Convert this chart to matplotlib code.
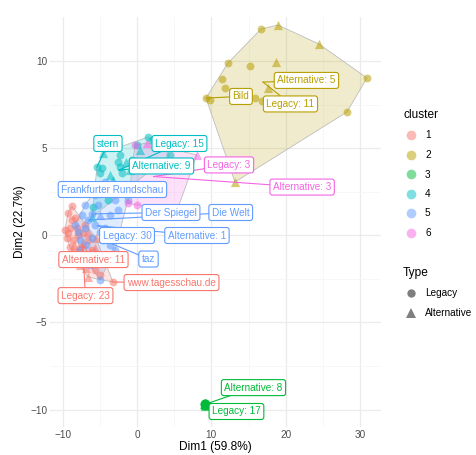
import numpy as np
import matplotlib
matplotlib.use("Agg")
import matplotlib.pyplot as plt
from matplotlib.patches import Polygon
from matplotlib.lines import Line2D

plt.rcParams["font.family"] = ["Liberation Sans", "DejaVu Sans"]

# ---- PCA coordinates of media outlets, per cluster and type ----
c1_leg_x = [-8.74, -8.33, -9.01, -9.27, -9.41, -8.60, -7.93, -9.01, -7.66, -8.33, -7.26, -6.59,
            -9.68, -8.06, -7.39, -6.32, -5.65, -3.23, -6.99, -8.74, -9.27, -6.05, -4.97]
c1_leg_y = [0.88, 0.99, 0.42, 0.13, -0.15, -0.27, 0.02, -0.67, -0.73, -0.96, 0.13, -0.27,
            0.30, 0.42, -1.13, -1.53, -1.99, -2.68, 0.59, 1.68, 1.28, -0.84, -2.28]
c1_alt_x = [-7.26, -7.93, -6.32, -5.65, -6.85, -4.44, -8.47, -7.66, -6.59, -6.59, -5.51]
c1_alt_y = [-0.44, -1.30, -0.96, -0.73, -1.88, -1.53, -0.56, -1.70, -2.39, 0.19, -0.16]

c2_leg_x = [16.67, 12.23, 15.19, 11.42, 11.83, 9.27, 9.81, 16.80, 28.23, 30.91, 15.86]
c2_leg_y = [11.84, 9.89, 9.72, 8.97, 8.46, 7.88, 7.76, 7.71, 7.08, 9.03, 7.88]
c2_alt_x = [18.95, 24.46, 18.68, 13.17, 17.61]
c2_alt_y = [12.07, 10.98, 9.93, 3.06, 8.46]

c3_leg_x = [9.0, 9.1, 9.2, 9.1, 9.0, 9.3, 9.1, 9.2, 9.0, 9.1, 9.2, 9.1, 9.0, 9.3, 9.1, 9.2, 9.1]
c3_leg_y = [-9.70, -9.65, -9.75, -9.70, -9.60, -9.70, -9.80, -9.65, -9.75, -9.70, -9.60, -9.75,
            -9.70, -9.65, -9.70, -9.80, -9.70]
c3_alt_x = [9.2, 9.1, 9.3, 9.0, 9.2, 9.1, 9.2, 9.1]
c3_alt_y = [-9.70, -9.60, -9.75, -9.70, -9.65, -9.80, -9.70, -9.75]

c4_leg_x = [1.48, 0.00, 2.02, -2.28, -2.55, -2.28, -4.70, -4.97, -5.38, -0.67, -2.02, -3.90,
            -4.03, 4.44, -5.91]
c4_leg_y = [5.64, 5.18, 5.47, 4.61, 4.21, 3.92, 3.86, 3.57, 3.92, 4.32, 3.57, 2.03,
            2.49, 4.61, 1.62]
c4_alt_x = [-4.57, -3.23, -6.05, -1.48, 0.40, -0.94, -5.24, -2.96, -3.63]
c4_alt_y = [4.72, 3.18, 1.05, 4.21, 4.89, 3.76, 2.60, 2.89, 3.46]

c5_leg_x = [-4.97, -3.90, -5.65, -3.63, -2.55, -7.39, -6.05, -6.59, -5.65, -4.97, -6.99, -4.30,
            -4.57, -3.63, -2.96, -7.93, -3.90, -7.66, -8.33, -4.97, -5.65, -6.32, -1.21, -6.99,
            -5.24, -2.96, -7.66, -6.85, -6.05, -4.30]
c5_leg_y = [2.89, 2.60, 2.31, 1.17, 1.46, 1.17, 1.23, 0.88, 0.59, 0.19, 0.42, 0.42,
            -0.27, -0.56, -0.84, 0.19, -1.53, -0.84, 0.59, -2.57, -1.30, -1.70, 2.03, 1.74,
            1.74, 2.03, -0.27, -0.56, -0.16, 3.06]
c5_alt_x = [-4.97]
c5_alt_y = [1.17]

c6_leg_x = [-0.27, -1.21, 0.00]
c6_leg_y = [5.18, 1.85, 1.74]
c6_alt_x = [8.06, 1.34, 5.51]
c6_alt_y = [4.61, 5.30, 1.57]

clusters = ["1", "2", "3", "4", "5", "6"]
cluster_colors = ["#F8766D", "#B79F00", "#00BA38", "#00BFC4", "#619CFF", "#F564E3"]
types = ["Legacy", "Alternative"]

# named outlets: (name, cluster, x, y)
outlet_names = ["stern", "Frankfurter Rundschau", "Der Spiegel", "Die Welt", "taz",
                "www.tagesschau.de", "Bild"]
outlet_cluster = ["4", "5", "5", "5", "5", "1", "2"]
outlet_x = [-5.38, -4.97, -6.05, -6.59, -4.57, -3.23, 9.27]
outlet_y = [3.92, 2.89, 1.23, 0.88, -0.27, -2.68, 7.88]

data = {
    "1": (c1_leg_x, c1_leg_y, c1_alt_x, c1_alt_y),
    "2": (c2_leg_x, c2_leg_y, c2_alt_x, c2_alt_y),
    "3": (c3_leg_x, c3_leg_y, c3_alt_x, c3_alt_y),
    "4": (c4_leg_x, c4_leg_y, c4_alt_x, c4_alt_y),
    "5": (c5_leg_x, c5_leg_y, c5_alt_x, c5_alt_y),
    "6": (c6_leg_x, c6_leg_y, c6_alt_x, c6_alt_y),
}

# label box positions (data coords) for repelled labels
label_pos = {
    ("4", "Legacy"): (5.71, 5.27), ("4", "Alternative"): (3.30, 3.98),
    ("6", "Legacy"): (12.37, 4.04), ("6", "Alternative"): (22.2, 2.77),
    ("5", "Legacy"): (-1.34, -0.01), ("5", "Alternative"): (8.06, -0.01),
    ("1", "Legacy"): (-6.92, -3.46), ("1", "Alternative"): (-5.85, -1.39),
    ("2", "Legacy"): (20.63, 7.54), ("2", "Alternative"): (22.78, 8.89),
    ("3", "Legacy"): (13.37, -10.11), ("3", "Alternative"): (15.66, -8.74),
}
outlet_label_pos = {
    "stern": (-3.9, 5.27), "Frankfurter Rundschau": (-3.3, 2.63),
    "Der Spiegel": (4.57, 1.31), "Die Welt": (12.6, 1.31), "taz": (1.55, -1.36),
    "www.tagesschau.de": (4.64, -2.71), "Bild": (13.98, 7.97),
}


def convex_hull(pts):
    pts = sorted(set(map(tuple, pts)))
    if len(pts) < 3:
        return pts

    def cross(o, a, b):
        return (a[0] - o[0]) * (b[1] - o[1]) - (a[1] - o[1]) * (b[0] - o[0])

    lower, upper = [], []
    for p in pts:
        while len(lower) >= 2 and cross(lower[-2], lower[-1], p) <= 0:
            lower.pop()
        lower.append(p)
    for p in reversed(pts):
        while len(upper) >= 2 and cross(upper[-2], upper[-1], p) <= 0:
            upper.pop()
        upper.append(p)
    return lower[:-1] + upper[:-1]


W, H = 476, 455
fig = plt.figure(figsize=(W / 100, H / 100), dpi=100)
ax = fig.add_axes([50 / W, 28 / H, 331 / W, 410 / H])
ax.set_xlim(-11.69, 32.8)
ax.set_ylim(-11.0, 12.53)

for s in ax.spines.values():
    s.set_visible(False)
ax.set_xticks([-10, 0, 10, 20, 30])
ax.set_yticks([-10, -5, 0, 5, 10])
ax.set_xticks([-5, 5, 15, 25], minor=True)
ax.set_yticks([-7.5, -2.5, 2.5, 7.5], minor=True)
ax.grid(which="major", color="#EBEBEB", lw=0.9)
ax.grid(which="minor", color="#F4F4F4", lw=0.5)
ax.tick_params(which="both", length=0, labelsize=7.2, labelcolor="#4D4D4D", pad=2)
ax.set_axisbelow(True)
ax.set_xlabel("Dim1 (59.8%)", fontsize=8.6, labelpad=1)
ax.set_ylabel("Dim2 (22.7%)", fontsize=8.6, labelpad=3)

centroids = {}
for cl, col in zip(clusters, cluster_colors):
    lx, ly, axx, ayy = data[cl]
    allx = np.array(lx + axx)
    ally = np.array(ly + ayy)
    centroids[cl] = (allx.mean(), ally.mean())
    hull = convex_hull(np.column_stack([allx, ally]))
    if len(hull) >= 3:
        ax.add_patch(Polygon(hull, closed=True, facecolor=col, alpha=0.2,
                             edgecolor="none", zorder=1))
        ax.add_patch(Polygon(hull, closed=True, facecolor="none",
                             edgecolor="#BDBDBD", lw=0.6, zorder=1.1))
    ax.scatter(lx, ly, s=32, marker="o", color=col, alpha=0.55, lw=0, zorder=2)
    ax.scatter(axx, ayy, s=44, marker="^", color=col, alpha=0.55, lw=0, zorder=2)


def boxed_label(text, anchor, pos, color):
    ax.plot([anchor[0], pos[0]], [anchor[1], pos[1]], color=color, lw=0.8, zorder=3)
    ax.text(pos[0], pos[1], text, fontsize=7.2, color=color, ha="center", va="center",
            zorder=4,
            bbox=dict(boxstyle="round,pad=0.3,rounding_size=0.25", facecolor="white",
                      edgecolor=color, lw=0.8))


for cl, col in zip(clusters, cluster_colors):
    lx, ly, axx, ayy = data[cl]
    boxed_label(f"Legacy: {len(lx)}", centroids[cl], label_pos[(cl, "Legacy")], col)
    boxed_label(f"Alternative: {len(axx)}", centroids[cl], label_pos[(cl, "Alternative")], col)

for name, cl, x, y in zip(outlet_names, outlet_cluster, outlet_x, outlet_y):
    col = cluster_colors[clusters.index(cl)]
    boxed_label(name, (x, y), outlet_label_pos[name], col)

# legends
cl_handles = [Line2D([], [], marker="o", ls="", color=c, alpha=0.5, markersize=7,
                     markeredgewidth=0) for c in cluster_colors]
leg1 = fig.legend(cl_handles, clusters, title="cluster", loc="upper left",
                  bbox_to_anchor=(394 / W, 1 - 100 / H), frameon=False, fontsize=7.2,
                  title_fontsize=8.6, labelspacing=0.95, handletextpad=0.7,
                  handlelength=1.5, alignment="left")
type_handles = [Line2D([], [], marker="o", ls="", color="#7F7F7F", markersize=6,
                       markeredgewidth=0),
                Line2D([], [], marker="^", ls="", color="#7F7F7F", markersize=7,
                       markeredgewidth=0)]
leg2 = fig.legend(type_handles, types, title="Type", loc="upper left",
                  bbox_to_anchor=(394 / W, 1 - 258 / H), frameon=False, fontsize=7.2,
                  title_fontsize=8.6, labelspacing=0.95, handletextpad=0.7,
                  handlelength=1.5, alignment="left")

fig.savefig("out.png", dpi=100)
